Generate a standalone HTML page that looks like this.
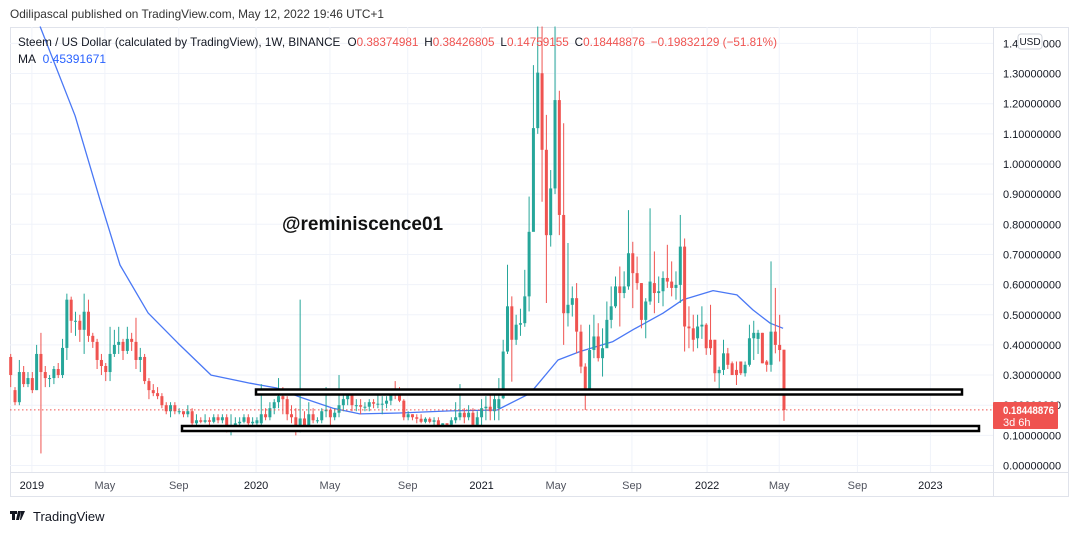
<!DOCTYPE html>
<html><head><meta charset="utf-8"><style>
body{margin:0;background:#fff;width:1079px;height:533px;overflow:hidden;font-family:"Liberation Sans",sans-serif}
svg{display:block}
</style></head><body>
<svg id="c" width="1079" height="533" xmlns="http://www.w3.org/2000/svg">
<text x="10" y="18" font-size="12" fill="#333" textLength="374" lengthAdjust="spacingAndGlyphs">Odilipascal published on TradingView.com, May 12, 2022 19:46 UTC+1</text>
<rect x="10.5" y="27.5" width="1058" height="469" fill="#fff" stroke="#e0e3eb"/>
<g id="grid"></g>
<g id="ma"></g>
<g id="candles"></g>
<line x1="10" x2="993" y1="409.9" y2="409.9" stroke="#ef5350" stroke-dasharray="1.5,2.5"/>
<rect x="256" y="389.5" width="706" height="5" fill="#fff" stroke="#000" stroke-width="2.5"/>
<rect x="182" y="426" width="797" height="5" fill="#fff" stroke="#000" stroke-width="2.5"/>
<text x="282" y="230" font-size="19" font-weight="bold" fill="#111">@reminiscence01</text>
<line x1="993.5" x2="993.5" y1="27" y2="497" stroke="#e0e3eb"/>
<line x1="10" x2="1069" y1="472.5" y2="472.5" stroke="#e0e3eb"/>
<g id="yaxis"></g>
<g id="xaxis"></g>
<rect x="1018" y="34" width="24" height="15" rx="3" fill="#fff" stroke="#d1d4dc"/>
<text x="1030" y="45" font-size="10" fill="#131722" text-anchor="middle">USD</text>
<rect x="993" y="402" width="65" height="27" rx="1" fill="#ef5350"/>
<text x="1003" y="414" font-size="11" font-weight="bold" fill="#fff" textLength="51" lengthAdjust="spacingAndGlyphs">0.18448876</text>
<text x="1003" y="426" font-size="11" fill="#fff">3d 6h</text>
<text x="18" y="46" font-size="12" fill="#131722" textLength="759" lengthAdjust="spacingAndGlyphs">Steem / US Dollar (calculated by TradingView), 1W, BINANCE <tspan dx="4">O</tspan><tspan fill="#ef5350">0.38374981</tspan><tspan dx="6">H</tspan><tspan fill="#ef5350">0.38426805</tspan><tspan dx="6">L</tspan><tspan fill="#ef5350">0.14759155</tspan><tspan dx="6">C</tspan><tspan fill="#ef5350">0.18448876</tspan><tspan dx="6" fill="#ef5350">−0.19832129 (−51.81%)</tspan></text>
<text x="18" y="63" font-size="12" fill="#131722">MA <tspan dx="4" fill="#2962ff">0.45391671</tspan></text>
<g>
<path d="M10 511h7v3h-2v6h-3v-6h-2z M18 511h3l-2 9h-3z M21 511h4l-4 9h-1z" fill="#131722"/>
<text x="33" y="521" font-size="13" fill="#131722">TradingView</text>
</g>
</svg>
<script>
const opens=[.36,.25,.21,.31,.27,.29,.25,.37,.31,.29,.29,.32,.30,.39,.55,.48,.48,.45,.51,.43,.41,.35,.33,.31,.37,.40,.41,.38,.42,.41,.35,.36,.28,.25,.24,.23,.20,.18,.20,.18,.18,.17,.18,.14,.15,.145,.15,.145,.16,.15,.16,.12,.13,.14,.145,.16,.14,.14,
.14,.17,.16,.19,.21,.23,.22,.17,.16,.13,.156,.13,.17,.15,.15,.18,.185,.16,.175,.20,.22,.235,.20,.20,.195,.195,.21,.205,.205,.205,.215,.245,.235,.215,.16,.17,.16,.155,.145,.155,.145,.15,.13,.14,.135,.15,.16,.175,.16,.175,.135,.16,.19,.195,.18,
.19,.223,.378,.528,.417,.467,.472,.561,.775,1.119,1.301,1.047,.764,.919,1.212,.831,.505,.533,.555,.444,.328,.25,.383,.428,.356,.389,.483,.528,.594,.572,.594,.704,.638,.605,.483,.544,.605,.572,.578,.622,.61,.589,.599,.726,.461,.455,.422,.461,.467,.417,.417,.306,.317,.372,.339,.317,.345,.306,.334,.422,.42,.44,.345,.334,.444,.40,.384];
const highs=[.37,.26,.35,.33,.31,.31,.40,.44,.33,.30,.33,.34,.42,.57,.56,.51,.50,.57,.55,.44,.42,.37,.34,.46,.45,.46,.42,.46,.44,.49,.39,.37,.29,.27,.26,.24,.21,.21,.21,.19,.18,.20,.19,.17,.16,.17,.16,.17,.17,.17,.17,.17,.16,.16,.17,.17,.16,.16,
.27,.19,.21,.22,.29,.26,.23,.20,.19,.55,.18,.21,.19,.16,.19,.26,.19,.19,.30,.24,.24,.24,.22,.22,.21,.22,.22,.24,.23,.23,.25,.28,.26,.22,.18,.17,.17,.17,.16,.16,.16,.16,.14,.14,.16,.21,.27,.19,.20,.19,.18,.22,.23,.24,.25,
.29,.417,.666,.561,.50,.52,.649,.892,1.328,1.456,1.456,1.163,.98,1.456,1.243,1.135,.738,.594,.605,.467,.339,.467,.50,.472,.455,.544,.594,.627,.66,.644,.847,.742,.693,.605,.555,.853,.71,.627,.644,.732,.677,.644,.831,.753,.528,.50,.50,.528,.472,.533,.417,.328,.417,.39,.345,.345,.345,.345,.467,.48,.45,.44,.35,.677,.589,.50,.384];
const lows=[.26,.20,.20,.26,.26,.24,.25,.04,.26,.26,.27,.29,.29,.35,.44,.43,.41,.37,.41,.39,.32,.30,.28,.28,.36,.37,.35,.37,.38,.32,.31,.27,.22,.23,.22,.19,.17,.16,.17,.17,.16,.16,.13,.13,.14,.14,.13,.14,.14,.14,.11,.10,.12,.13,.14,.13,.13,.13,
.13,.15,.15,.17,.19,.17,.15,.14,.10,.11,.12,.12,.14,.14,.14,.16,.13,.15,.16,.18,.20,.18,.18,.17,.18,.18,.19,.19,.17,.19,.20,.22,.21,.15,.15,.15,.14,.14,.14,.14,.13,.12,.12,.13,.13,.14,.15,.14,.15,.13,.13,.12,.15,.15,.15,
.15,.22,.37,.278,.40,.43,.46,.511,.79,1.10,.875,.539,.726,.90,.764,.40,.461,.494,.372,.306,.184,.245,.356,.345,.295,.40,.455,.522,.461,.555,.583,.522,.583,.455,.422,.533,.505,.539,.528,.589,.561,.55,.539,.378,.389,.378,.389,.42,.367,.367,.278,.256,.30,.32,.30,.267,.30,.295,.328,.35,.37,.339,.311,.311,.372,.345,.148];
const closes=[.30,.21,.31,.27,.29,.25,.37,.31,.29,.29,.32,.30,.39,.55,.48,.48,.45,.51,.43,.41,.35,.33,.31,.37,.40,.41,.38,.42,.41,.35,.36,.28,.25,.24,.23,.20,.18,.20,.18,.18,.17,.18,.14,.15,.145,.15,.145,.16,.15,.16,.12,.13,.14,.145,.16,.14,.145,.15,
.17,.16,.19,.21,.23,.22,.17,.16,.13,.156,.13,.17,.15,.15,.18,.185,.16,.175,.20,.22,.235,.20,.20,.195,.195,.21,.205,.205,.205,.215,.245,.235,.215,.16,.17,.16,.155,.145,.155,.145,.15,.13,.14,.135,.15,.16,.175,.16,.175,.135,.16,.19,.195,.18,.22,
.22,.378,.528,.417,.467,.472,.561,.775,1.119,1.303,1.047,.764,.919,1.212,.831,.505,.533,.555,.444,.328,.25,.383,.428,.356,.389,.483,.528,.594,.572,.594,.704,.638,.605,.483,.544,.61,.572,.578,.622,.61,.589,.599,.726,.461,.455,.417,.461,.467,.389,.389,.306,.317,.372,.334,.30,.30,.306,.334,.422,.44,.44,.339,.334,.444,.40,.383,.184];
const maWeeks=[6.8,14.9,20.7,25.3,31.8,38.7,46.4,55.4,61.6,67,74.6,80.8,90,101.7,112.6,120.2,122.5,126.7,131.8,139.4,144,151,155.6,162.6,168.1,171.8,175.8,178.8];
const maValues=[1.456,1.16,.88,.665,.506,.406,.30,.273,.257,.227,.19,.171,.174,.181,.184,.239,.278,.35,.378,.411,.45,.505,.55,.58,.566,.516,.472,.455];
const priceTicks=[0,.1,.2,.3,.4,.5,.6,.7,.8,.9,1.0,1.1,1.2,1.3,1.4];
const timeLabels=["2019","May","Sep","2020","May","Sep","2021","May","Sep","2022","May","Sep","2023"];
const timeWeeks=[4.9,21.8,38.9,56.8,73.9,91.9,109,126.2,143.8,161.2,177.9,196,212.9];

const NS="http://www.w3.org/2000/svg";
function X(i){return 10.7+i*4.32;}
function Y(v){return 465.5-v*301.5;}
function mk(t,a,p){const e=document.createElementNS(NS,t);for(const k in a)e.setAttribute(k,a[k]);p.appendChild(e);return e;}
const grid=document.getElementById('grid'),ya=document.getElementById('yaxis'),xa=document.getElementById('xaxis');
priceTicks.forEach((v,k)=>{
  const l=mk('line',{x1:10,x2:993,y1:Y(v),y2:Y(v),stroke:'#f0f3fa'},grid);
  
  
  const t=mk('text',{x:1003,y:Y(v)+4,'font-size':11,fill:'#131722'},ya);
  t.textContent=v.toFixed(8);
  
  
});
timeWeeks.forEach((w,k)=>{
  const l=mk('line',{x1:X(w),x2:X(w),y1:27,y2:472,stroke:'#f0f3fa'},grid);
  
  
  const yr=/^\d/.test(timeLabels[k]);
  const t=mk('text',{x:X(w),y:489,'font-size':11,fill:yr?'#131722':'#50535e','text-anchor':'middle'},xa);
  t.textContent=timeLabels[k];
  
  
});
let d='';
maWeeks.forEach((w,k)=>{d+=(k?'L':'M')+X(w).toFixed(1)+' '+Y(maValues[k]).toFixed(1);});
const ma=mk('path',{d:d,fill:'none',stroke:'#4a78f5','stroke-width':1.3,'stroke-linejoin':'round'},document.getElementById('ma'));


const cg=document.getElementById('candles');
closes.forEach((c,i)=>{
  const o=opens[i],col=c>=o?'#26a69a':'#ef5350',x=X(i);
  const g=mk('g',{},cg);
  
  
  mk('line',{x1:x,x2:x,y1:Y(highs[i]),y2:Y(lows[i]),stroke:col,'stroke-width':1},g);
  const top=Y(Math.max(o,c)),h=Math.max(1,Math.abs(Y(o)-Y(c)));
  mk('rect',{x:x-1.5,y:top,width:3,height:h,fill:col},g);
});
</script>
</body></html>
